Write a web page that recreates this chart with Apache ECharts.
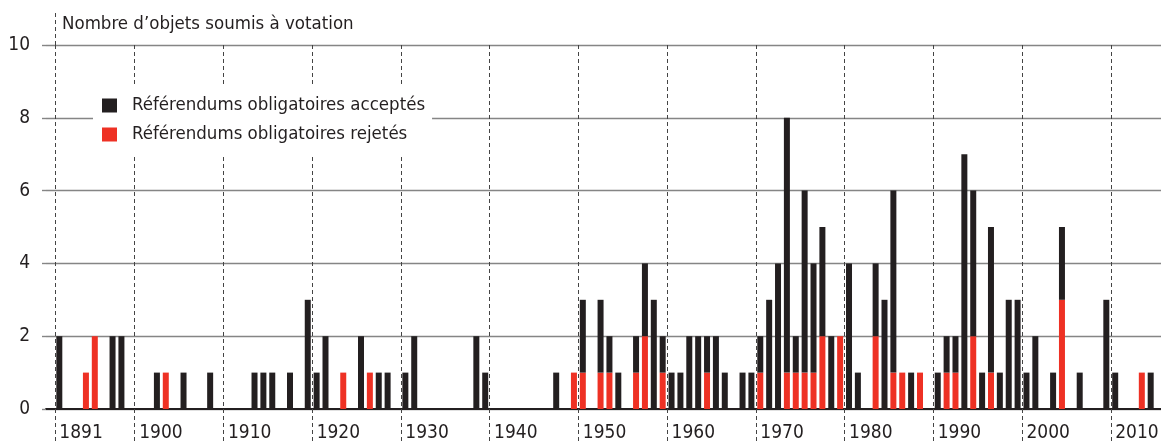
<!DOCTYPE html>
<html>
<head>
<meta charset="utf-8">
<script src="https://cdn.jsdelivr.net/npm/echarts@6/dist/echarts.min.js"></script>
<style>
  html, body { margin: 0; padding: 0; background: #fff; }
  #chart { width: 1161px; height: 444px; }
</style>
</head>
<body>
<div id="chart"></div>
<script>
// years on the x axis (one empty slot before 1891, one after 2014)
const firstYear = 1890;
const lastYear = 2015;
const years = [];
for (let y = firstYear; y <= lastYear; y++) years.push(String(y));

// accepted / rejected mandatory referendums, one row per decade
const accepted = [
  0, 2, 0, 0, 0, 0, 0, 2, 2, 0,   // 1890s
  0, 0, 1, 0, 0, 1, 0, 0, 1, 0,   // 1900s
  0, 0, 0, 1, 1, 1, 0, 1, 0, 3,   // 1910s
  1, 2, 0, 0, 0, 2, 0, 1, 1, 0,   // 1920s
  1, 2, 0, 0, 0, 0, 0, 0, 2, 1,   // 1930s
  0, 0, 0, 0, 0, 0, 0, 1, 0, 0,   // 1940s
  2, 0, 2, 1, 1, 0, 1, 2, 3, 1,   // 1950s
  1, 1, 2, 2, 1, 2, 1, 0, 1, 1,   // 1960s
  1, 3, 4, 7, 1, 5, 3, 3, 2, 0,   // 1970s
  4, 1, 0, 2, 3, 5, 0, 1, 0, 0,   // 1980s
  1, 1, 1, 7, 4, 1, 4, 1, 3, 3,   // 1990s
  1, 2, 0, 1, 2, 0, 1, 0, 0, 3,   // 2000s
  1, 0, 0, 0, 1, 0                // 2010s
];
const rejected = [
  0, 0, 0, 0, 1, 2, 0, 0, 0, 0,   // 1890s
  0, 0, 0, 1, 0, 0, 0, 0, 0, 0,   // 1900s
  0, 0, 0, 0, 0, 0, 0, 0, 0, 0,   // 1910s
  0, 0, 0, 1, 0, 0, 1, 0, 0, 0,   // 1920s
  0, 0, 0, 0, 0, 0, 0, 0, 0, 0,   // 1930s
  0, 0, 0, 0, 0, 0, 0, 0, 0, 1,   // 1940s
  1, 0, 1, 1, 0, 0, 1, 2, 0, 1,   // 1950s
  0, 0, 0, 0, 1, 0, 0, 0, 0, 0,   // 1960s
  1, 0, 0, 1, 1, 1, 1, 2, 0, 2,   // 1970s
  0, 0, 0, 2, 0, 1, 1, 0, 1, 0,   // 1980s
  0, 1, 1, 0, 2, 0, 1, 0, 0, 0,   // 1990s
  0, 0, 0, 0, 3, 0, 0, 0, 0, 0,   // 2000s
  0, 0, 0, 1, 0, 0                // 2010s
];

// years that get a dashed line and a label
const markedYears = ['1891', '1900', '1910', '1920', '1930', '1940', '1950',
  '1960', '1970', '1980', '1990', '2000', '2010'];

const FONT = '"Liberation Sans Narrow", "DejaVu Sans Condensed", Roboto, sans-serif';
const ink = '#231f20';
const red = '#ee3124';
const gridGray = '#858585';
const dashGray = '#444444';

const isMarked = (index, value) => markedYears.includes(value);

const chart = echarts.init(document.getElementById('chart'));

chart.setOption({
  animation: false,
  textStyle: { fontFamily: FONT },
  title: {
    text: 'Nombre d\u2019objets soumis à votation',
    left: 57,
    top: 10,
    textStyle: { fontFamily: FONT, fontSize: 18.5, fontWeight: 'normal', color: ink }
  },
  legend: {
    data: ['Référendums obligatoires acceptés', 'Référendums obligatoires rejetés'],
    orient: 'vertical',
    left: 93,
    top: 87,
    padding: [9, 7, 11, 9],
    backgroundColor: '#fff',
    icon: 'rect',
    itemWidth: 15,
    itemHeight: 14,
    itemGap: 10,
    selectedMode: false,
    textStyle: { fontFamily: FONT, fontSize: 18.5, color: ink, padding: [0, 0, 0, 10] }
  },
  grid: { left: 46, right: -3, top: 45, bottom: 35, outerBoundsMode: 'none' },
  xAxis: {
    type: 'category',
    data: years,
    axisLine: { lineStyle: { color: ink, width: 2 } },
    axisTick: {
      show: true,
      interval: isMarked,
      length: 35,
      lineStyle: { color: dashGray, width: 1, type: [4, 3] }
    },
    axisLabel: {
      interval: isMarked,
      align: 'left',
      margin: 15,
      fontSize: 19,
      color: ink
    },
    splitLine: {
      show: true,
      interval: isMarked,
      lineStyle: { color: dashGray, width: 1, type: [4, 3] }
    }
  },
  yAxis: {
    type: 'value',
    min: 0,
    max: 10,
    interval: 2,
    axisLine: { show: false },
    axisTick: { show: true, length: 4, lineStyle: { color: gridGray, width: 1.4 } },
    axisLabel: { margin: 16, fontSize: 19, color: ink },
    splitLine: { lineStyle: { color: gridGray, width: 1.4 } }
  },
  series: [
    {
      name: 'Référendums obligatoires rejetés',
      type: 'bar',
      stack: 'total',
      barWidth: 6,
      data: rejected,
      itemStyle: { color: red }
    },
    {
      name: 'Référendums obligatoires acceptés',
      type: 'bar',
      stack: 'total',
      barWidth: 6,
      data: accepted,
      itemStyle: { color: ink }
    }
  ]
});

// the 1891 line runs on up beside the title
const c0 = chart.convertToPixel({ xAxisIndex: 0 }, '1891');
const c1 = chart.convertToPixel({ xAxisIndex: 0 }, '1892');
const edgeX = Math.round(c0 - (c1 - c0) / 2) + 0.5;
const topY = chart.convertToPixel({ yAxisIndex: 0 }, 10);
chart.setOption({
  graphic: [{
    type: 'line',
    shape: { x1: edgeX, y1: 13, x2: edgeX, y2: topY },
    style: { stroke: dashGray, lineWidth: 1, lineDash: [4, 3] },
    silent: true
  }]
});

window.addEventListener('resize', () => chart.resize());
</script>
</body>
</html>
